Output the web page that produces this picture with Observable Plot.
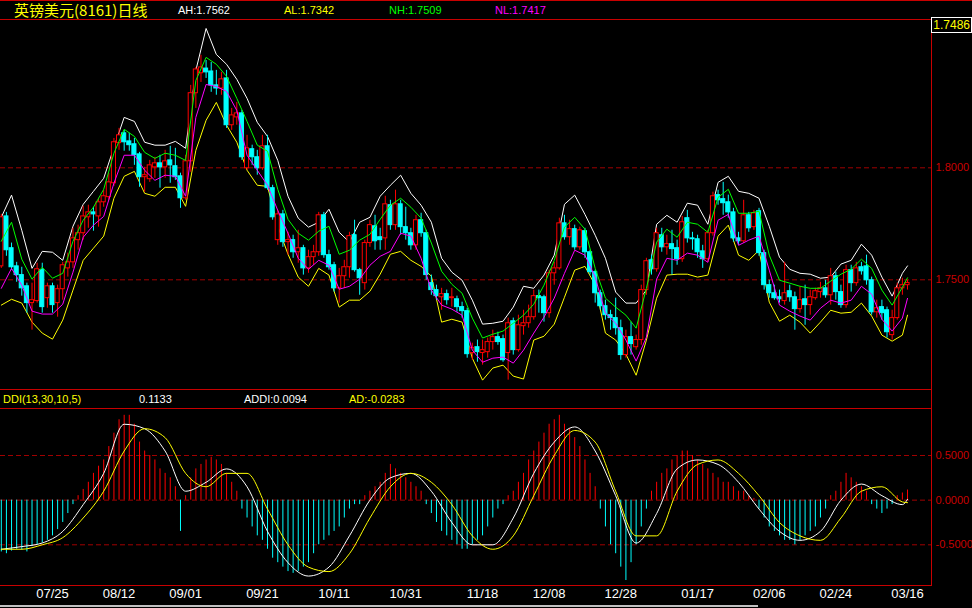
<!DOCTYPE html>
<html><head><meta charset="utf-8">
<script src="https://cdn.jsdelivr.net/npm/d3@7"></script>
<script src="https://cdn.jsdelivr.net/npm/@observablehq/plot@0.6"></script>
<style>
html,body{margin:0;padding:0;background:#000;}
#root{position:relative;width:972px;height:608px;background:#000;overflow:hidden;font-family:"Liberation Sans",Arial,sans-serif;}
.hl{position:absolute;height:1px;background:#c80000;}
.vl{position:absolute;width:1px;background:#c80000;}
.t{position:absolute;font-size:11px;line-height:12px;white-space:nowrap;}
.pane{position:absolute;left:0;}
</style></head><body>
<div id="root"></div>
<script>
const N = 178;
const open = [1.7560,1.7783,1.7641,1.7560,1.7521,1.7471,1.7396,1.7405,1.7543,1.7418,
1.7471,1.7396,1.7458,1.7551,1.7578,1.7677,1.7708,1.7779,1.7801,1.7783,
1.7846,1.7869,1.7931,1.8110,1.8154,1.8118,1.8105,1.8060,1.7958,1.7949,
1.8002,1.8020,1.8002,1.8033,1.8007,1.7962,1.7864,1.8029,1.8333,1.8422,
1.8443,1.8430,1.8368,1.8354,1.8399,1.8190,1.8225,1.8243,1.7998,1.8083,
1.8047,1.7998,1.8096,1.7909,1.7677,1.7792,1.7668,1.7677,1.7623,1.7641,
1.7551,1.7601,1.7623,1.7788,1.7610,1.7565,1.7462,1.7516,1.7556,1.7699,
1.7543,1.7485,1.7664,1.7739,1.7690,1.7685,1.7833,1.7744,1.7837,1.7735,
1.7708,1.7654,1.7766,1.7708,1.7485,1.7454,1.7422,1.7436,1.7418,1.7413,
1.7378,1.7360,1.7173,1.7199,1.7173,1.7177,1.7222,1.7244,1.7235,1.7173,
1.7315,1.7186,1.7293,1.7306,1.7333,1.7427,1.7422,1.7351,1.7529,1.7551,
1.7752,1.7690,1.7726,1.7645,1.7717,1.7623,1.7534,1.7440,1.7382,1.7342,
1.7329,1.7284,1.7164,1.7244,1.7199,1.7231,1.7454,1.7587,1.7547,1.7699,
1.7645,1.7659,1.7641,1.7592,1.7775,1.7685,1.7681,1.7627,1.7592,1.7708,
1.7878,1.7860,1.7846,1.7801,1.7685,1.7672,1.7788,1.7735,1.7806,1.7619,
1.7476,1.7440,1.7422,1.7405,1.7449,1.7422,1.7369,1.7413,1.7387,1.7418,
1.7445,1.7462,1.7431,1.7516,1.7445,1.7387,1.7543,1.7485,1.7556,1.7560,
1.7498,1.7355,1.7378,1.7364,1.7253,1.7329,1.7462,1.7476];
const high = [1.7792,1.7801,1.7664,1.7578,1.7556,1.7485,1.7485,1.7574,1.7574,1.7485,
1.7485,1.7476,1.7578,1.7619,1.7730,1.7744,1.7828,1.7833,1.7824,1.7864,
1.7900,1.7976,1.8131,1.8176,1.8167,1.8154,1.8131,1.8069,1.8002,1.8033,
1.8047,1.8056,1.8078,1.8096,1.8087,1.7976,1.8056,1.8368,1.8448,1.8502,
1.8479,1.8470,1.8435,1.8426,1.8435,1.8265,1.8292,1.8256,1.8145,1.8101,
1.8078,1.8145,1.8145,1.7922,1.7810,1.7810,1.7712,1.7699,1.7721,1.7654,
1.7632,1.7654,1.7801,1.7801,1.7632,1.7578,1.7551,1.7587,1.7712,1.7766,
1.7551,1.7677,1.7766,1.7788,1.7730,1.7873,1.7855,1.7900,1.7855,1.7824,
1.7730,1.7788,1.7797,1.7721,1.7521,1.7476,1.7462,1.7454,1.7462,1.7427,
1.7400,1.7373,1.7217,1.7231,1.7231,1.7240,1.7275,1.7266,1.7253,1.7329,
1.7329,1.7342,1.7364,1.7387,1.7454,1.7454,1.7431,1.7543,1.7578,1.7775,
1.7788,1.7766,1.7744,1.7735,1.7730,1.7632,1.7543,1.7454,1.7409,1.7364,
1.7418,1.7320,1.7275,1.7311,1.7253,1.7476,1.7596,1.7610,1.7730,1.7730,
1.7699,1.7721,1.7677,1.7783,1.7810,1.7712,1.7699,1.7654,1.7721,1.7891,
1.7900,1.7935,1.7878,1.7819,1.7712,1.7855,1.7801,1.7810,1.7819,1.7632,
1.7498,1.7476,1.7454,1.7578,1.7476,1.7445,1.7467,1.7476,1.7454,1.7462,
1.7489,1.7498,1.7551,1.7534,1.7476,1.7565,1.7565,1.7578,1.7578,1.7610,
1.7512,1.7409,1.7409,1.7378,1.7364,1.7485,1.7507,1.7498];
const low = [1.7551,1.7605,1.7543,1.7489,1.7427,1.7351,1.7275,1.7396,1.7351,1.7373,
1.7351,1.7333,1.7409,1.7512,1.7551,1.7632,1.7677,1.7730,1.7717,1.7735,
1.7824,1.7855,1.7917,1.8078,1.8074,1.8074,1.8011,1.7913,1.7891,1.7935,
1.7953,1.7909,1.7953,1.7931,1.7944,1.7819,1.7855,1.7980,1.8265,1.8381,
1.8399,1.8337,1.8324,1.8324,1.8176,1.8167,1.8190,1.8033,1.7989,1.8011,
1.7967,1.7989,1.7900,1.7766,1.7654,1.7645,1.7610,1.7596,1.7574,1.7521,
1.7529,1.7565,1.7605,1.7596,1.7543,1.7445,1.7396,1.7462,1.7507,1.7534,
1.7431,1.7454,1.7645,1.7632,1.7632,1.7632,1.7721,1.7721,1.7699,1.7677,
1.7632,1.7632,1.7690,1.7498,1.7431,1.7409,1.7364,1.7387,1.7378,1.7355,
1.7329,1.7150,1.7141,1.7132,1.7119,1.7150,1.7186,1.7208,1.7132,1.7052,
1.7164,1.7177,1.7253,1.7284,1.7320,1.7351,1.7311,1.7329,1.7476,1.7543,
1.7677,1.7654,1.7632,1.7632,1.7596,1.7521,1.7396,1.7364,1.7320,1.7275,
1.7253,1.7141,1.7150,1.7164,1.7186,1.7208,1.7431,1.7521,1.7534,1.7623,
1.7610,1.7521,1.7565,1.7578,1.7664,1.7632,1.7596,1.7551,1.7578,1.7695,
1.7833,1.7788,1.7775,1.7668,1.7654,1.7664,1.7712,1.7721,1.7605,1.7454,
1.7418,1.7409,1.7396,1.7387,1.7400,1.7275,1.7351,1.7297,1.7342,1.7409,
1.7418,1.7418,1.7387,1.7409,1.7373,1.7373,1.7445,1.7471,1.7521,1.7476,
1.7342,1.7329,1.7320,1.7240,1.7231,1.7320,1.7431,1.7454];
const close = [1.7779,1.7632,1.7556,1.7521,1.7462,1.7396,1.7409,1.7547,1.7378,1.7471,
1.7387,1.7458,1.7565,1.7578,1.7685,1.7708,1.7783,1.7801,1.7792,1.7846,
1.7873,1.7935,1.8114,1.8145,1.8114,1.8101,1.8056,1.7958,1.7967,1.8011,
1.8020,1.8002,1.8029,1.8011,1.7958,1.7864,1.8029,1.8333,1.8439,1.8448,
1.8426,1.8368,1.8354,1.8395,1.8190,1.8234,1.8243,1.8047,1.8087,1.8047,
1.7998,1.8096,1.7909,1.7779,1.7792,1.7668,1.7677,1.7623,1.7641,1.7551,
1.7601,1.7623,1.7788,1.7610,1.7556,1.7462,1.7516,1.7556,1.7695,1.7543,
1.7507,1.7664,1.7744,1.7672,1.7677,1.7837,1.7744,1.7837,1.7735,1.7708,
1.7654,1.7766,1.7708,1.7521,1.7454,1.7427,1.7436,1.7409,1.7422,1.7378,
1.7360,1.7168,1.7195,1.7177,1.7186,1.7222,1.7244,1.7222,1.7141,1.7306,
1.7186,1.7297,1.7306,1.7333,1.7427,1.7418,1.7351,1.7529,1.7551,1.7752,
1.7690,1.7726,1.7645,1.7721,1.7623,1.7534,1.7440,1.7382,1.7342,1.7329,
1.7284,1.7164,1.7244,1.7213,1.7231,1.7454,1.7583,1.7547,1.7708,1.7645,
1.7659,1.7637,1.7592,1.7757,1.7685,1.7681,1.7623,1.7592,1.7708,1.7873,
1.7855,1.7842,1.7801,1.7685,1.7672,1.7788,1.7730,1.7797,1.7619,1.7476,
1.7440,1.7418,1.7413,1.7440,1.7422,1.7369,1.7409,1.7387,1.7422,1.7449,
1.7462,1.7431,1.7516,1.7445,1.7387,1.7543,1.7485,1.7551,1.7538,1.7498,
1.7355,1.7373,1.7351,1.7266,1.7329,1.7462,1.7476,1.7486];

// envelope lines, one value every 2 bars (bars 0,2,...,176) plus the last bar
const ahLine = [1.7779,1.7878,1.7721,1.7551,1.7627,1.7623,1.7587,1.7739,1.7837,1.7895,
1.7953,1.8091,1.8225,1.8207,1.8114,1.8101,1.8101,1.8118,1.8087,1.8435,
1.8622,1.8506,1.8462,1.8395,1.8310,1.8203,1.8140,1.8033,1.7873,1.7775,
1.7735,1.7757,1.7815,1.7712,1.7668,1.7757,1.7779,1.7873,1.7922,1.7967,
1.7886,1.7833,1.7757,1.7596,1.7534,1.7498,1.7409,1.7302,1.7306,1.7315,
1.7378,1.7471,1.7462,1.7521,1.7610,1.7837,1.7878,1.7792,1.7699,1.7596,
1.7445,1.7396,1.7396,1.7454,1.7748,1.7788,1.7757,1.7842,1.7833,1.7748,
1.7935,1.7962,1.7895,1.7886,1.7864,1.7739,1.7601,1.7547,1.7529,1.7525,
1.7507,1.7512,1.7570,1.7587,1.7659,1.7610,1.7512,1.7427,1.7529,1.7562];
const nhLine = [1.7672,1.7757,1.7592,1.7503,1.7556,1.7507,1.7529,1.7672,1.7766,1.7824,
1.7904,1.8065,1.8172,1.8140,1.8069,1.8042,1.8065,1.8056,1.8033,1.8390,
1.8493,1.8462,1.8408,1.8310,1.8207,1.8101,1.8074,1.7904,1.7770,1.7708,
1.7677,1.7717,1.7739,1.7614,1.7632,1.7677,1.7703,1.7770,1.7833,1.7864,
1.7824,1.7775,1.7664,1.7538,1.7480,1.7440,1.7329,1.7240,1.7257,1.7271,
1.7306,1.7342,1.7391,1.7476,1.7587,1.7735,1.7779,1.7726,1.7551,1.7418,
1.7378,1.7342,1.7284,1.7462,1.7668,1.7726,1.7690,1.7757,1.7748,1.7712,
1.7868,1.7904,1.7797,1.7797,1.7806,1.7610,1.7498,1.7485,1.7471,1.7462,
1.7462,1.7494,1.7525,1.7547,1.7592,1.7551,1.7454,1.7387,1.7467,1.7509];
const nlLine = [1.7462,1.7551,1.7476,1.7360,1.7347,1.7347,1.7391,1.7534,1.7690,1.7744,
1.7783,1.7931,1.8056,1.8056,1.7989,1.7944,1.7967,1.7962,1.7873,1.8225,
1.8372,1.8363,1.8341,1.8256,1.8056,1.7989,1.7922,1.7810,1.7708,1.7596,
1.7547,1.7587,1.7565,1.7458,1.7471,1.7503,1.7565,1.7605,1.7627,1.7708,
1.7695,1.7596,1.7454,1.7387,1.7369,1.7342,1.7186,1.7132,1.7150,1.7155,
1.7128,1.7186,1.7262,1.7333,1.7418,1.7529,1.7632,1.7610,1.7512,1.7351,
1.7306,1.7231,1.7137,1.7244,1.7503,1.7596,1.7587,1.7619,1.7610,1.7578,
1.7766,1.7792,1.7654,1.7677,1.7695,1.7543,1.7387,1.7360,1.7338,1.7320,
1.7373,1.7409,1.7396,1.7409,1.7471,1.7436,1.7324,1.7271,1.7329,1.7417];
const alLine = [1.7387,1.7413,1.7396,1.7311,1.7262,1.7235,1.7320,1.7454,1.7587,1.7641,
1.7695,1.7864,1.7962,1.7984,1.7886,1.7873,1.7913,1.7913,1.7828,1.8078,
1.8212,1.8292,1.8190,1.8114,1.7989,1.7922,1.7917,1.7739,1.7614,1.7512,
1.7471,1.7551,1.7521,1.7378,1.7409,1.7409,1.7449,1.7525,1.7614,1.7627,
1.7587,1.7560,1.7516,1.7311,1.7324,1.7311,1.7150,1.7052,1.7106,1.7119,
1.7070,1.7057,1.7231,1.7248,1.7302,1.7422,1.7543,1.7560,1.7476,1.7262,
1.7231,1.7168,1.7074,1.7231,1.7418,1.7521,1.7525,1.7525,1.7512,1.7521,
1.7695,1.7744,1.7610,1.7587,1.7632,1.7400,1.7315,1.7342,1.7311,1.7262,
1.7311,1.7364,1.7351,1.7355,1.7396,1.7338,1.7253,1.7226,1.7253,1.7342];

const ddiBars = [-0.58,-0.60,-0.57,-0.55,-0.56,-0.58,-0.52,-0.50,-0.48,-0.45,-0.40,-0.33,
-0.25,-0.15,-0.05,
0.05,0.12,0.20,0.30,0.38,0.45,
0.60,0.75,0.90,0.95,0.95,0.85,0.65,
0.55,0.50,0.45,0.35,0.30,0.25,0.15,
-0.35,0.05,
0.25,0.35,0.40,0.45,0.48,0.45,0.40,0.30,0.20,0.10,
-0.10,-0.20,-0.30,-0.40,-0.45,-0.55,
-0.65,-0.70,-0.75,-0.80,-0.82,-0.80,-0.75,-0.70,-0.60,-0.50,
-0.45,-0.40,-0.35,-0.30,-0.20,-0.10,-0.05,-0.05,
0.05,0.10,0.15,0.20,0.30,0.40,0.35,0.30,0.25,0.20,0.15,0.10,-0.05,-0.15,
-0.25,-0.35,-0.40,-0.45,-0.50,-0.55,-0.55,-0.50,-0.45,-0.40,-0.30,-0.20,
-0.10,-0.05,0.05,0.10,0.20,0.30,
0.45,0.55,0.65,0.75,0.85,0.90,0.95,0.85,0.80,0.70,
0.60,0.45,0.30,0.15,-0.10,-0.30,-0.50,-0.60,
-0.75,-0.90,-0.70,-0.50,-0.30,
-0.10,0.10,0.20,0.30,0.35,
0.45,0.50,0.55,0.55,0.50,0.45,0.40,0.35,0.30,0.25,
0.20,0.20,0.15,0.10,0.10,0.05,0.02,-0.10,
-0.20,-0.30,-0.35,-0.40,-0.45,-0.45,-0.50,-0.45,-0.40,-0.35,-0.30,-0.20,
-0.10,0.05,0.10,0.20,0.30,0.25,0.20,0.15,0.10,-0.05,-0.10,-0.15,-0.10,-0.05,0.05,0.08,0.1133];
// DDI signal lines, one value every 4 bars plus the last bar
const addiLine = [-0.55,-0.52,-0.48,-0.35,-0.05,0.30,0.85,0.80,0.55,0.10,0.20,0.35,0.15,-0.35,-0.70,-0.85,-0.75,-0.40,0.00,0.25,0.30,0.10,-0.25,-0.50,-0.50,-0.20,0.30,0.65,0.82,0.55,0.05,-0.48,-0.15,0.35,0.45,0.40,0.20,-0.10,-0.35,-0.45,-0.35,0.00,0.18,0.05,-0.05,0.0094];
const adLine = [-0.55,-0.55,-0.50,-0.42,-0.20,0.10,0.55,0.80,0.70,0.30,0.15,0.30,0.30,-0.10,-0.50,-0.75,-0.80,-0.60,-0.20,0.15,0.30,0.20,-0.05,-0.40,-0.55,-0.40,0.05,0.50,0.78,0.65,0.10,-0.40,-0.40,0.10,0.40,0.45,0.30,0.05,-0.25,-0.40,-0.45,-0.20,0.10,0.15,-0.02,-0.0283];

const dateLabels = ["07/25","08/12","09/01","09/21","10/11","10/31","11/18","12/08","12/28","01/17","02/06","02/24","03/16"];
const dateBars = [10,23,36,51,65,79,94,107,121,136,150,163,177];
const priceTicks = [1.75, 1.80];
const ddiTicks = [0.5, 0, -0.5];

const RED = "#ff0000", CYAN = "#00ffff", AXIS = "#c80000", GRID = "#a00000";

const bars = d3.range(N).map(i => ({i, o: open[i], h: high[i], l: low[i], c: close[i]}));
const upBars = bars.filter(d => d.c >= d.o);
const dnBars = bars.filter(d => d.c < d.o);
const envIdx = d3.range(0, N - 1, 2).concat([N - 1]);
const toLine = (arr, idx) => arr.map((v, k) => ({i: idx[k], v}));
const ddiIdx = d3.range(0, N - 1, 4).concat([N - 1]);
const ddiData = ddiBars.map((v, i) => ({i, v}));

const root = document.getElementById("root");
function add(html) { root.insertAdjacentHTML("beforeend", html); }

const xOpts = {domain: [0, N - 1], range: [0.8, 907], axis: null};
const baseStyle = {background: "transparent", overflow: "visible", fontFamily: "Liberation Sans, Arial, sans-serif"};

const pricePlot = Plot.plot({
  width: 972, height: 369, marginLeft: 0, marginRight: 41, marginTop: 0, marginBottom: 0,
  style: baseStyle,
  x: xOpts,
  y: {domain: [1.75, 1.80], range: [259.3, 147.3], axis: null},
  marks: [
    Plot.ruleY(priceTicks, {stroke: GRID, strokeDasharray: "5,3"}),
    Plot.line(toLine(ahLine, envIdx), {x: "i", y: "v", stroke: "#ffffff", strokeWidth: 1}),
    Plot.line(toLine(alLine, envIdx), {x: "i", y: "v", stroke: "#ffff00", strokeWidth: 1}),
    Plot.ruleX(dnBars, {x: "i", y1: "l", y2: "h", stroke: CYAN}),
    Plot.ruleX(upBars, {x: "i", y1: "l", y2: "h", stroke: RED}),
    Plot.rect(dnBars, {x1: d => d.i - 0.4, x2: d => d.i + 0.4, y1: "o", y2: "c", fill: CYAN, stroke: CYAN}),
    Plot.rect(upBars, {x1: d => d.i - 0.4, x2: d => d.i + 0.4, y1: "o", y2: "c", fill: "#000", stroke: RED}),
    Plot.line(toLine(nhLine, envIdx), {x: "i", y: "v", stroke: "#00ff00", strokeWidth: 1}),
    Plot.line(toLine(nlLine, envIdx), {x: "i", y: "v", stroke: "#ff00ff", strokeWidth: 1}),
    Plot.text(priceTicks, {y: d => d, text: d => d.toFixed(4), frameAnchor: "right", textAnchor: "start", dx: 4, fill: AXIS, fontSize: 11})
  ]
});

const ddiPlot = Plot.plot({
  width: 972, height: 200, marginLeft: 0, marginRight: 41, marginTop: 0, marginBottom: 23,
  style: baseStyle,
  x: xOpts,
  y: {domain: [-0.5, 0.5], range: [136.3, 47], axis: null},
  marks: [
    Plot.ruleY(ddiTicks, {stroke: GRID, strokeDasharray: "5,3"}),
    Plot.ruleX(ddiData.filter(d => d.v >= 0), {x: "i", y1: () => 0, y2: "v", stroke: RED}),
    Plot.ruleX(ddiData.filter(d => d.v < 0), {x: "i", y1: () => 0, y2: "v", stroke: CYAN}),
    Plot.line(toLine(addiLine, ddiIdx), {x: "i", y: "v", stroke: "#ffffff", strokeWidth: 1, curve: "monotone-x"}),
    Plot.line(toLine(adLine, ddiIdx), {x: "i", y: "v", stroke: "#ffff00", strokeWidth: 1, curve: "monotone-x"}),
    Plot.text(ddiTicks, {y: d => d, text: d => d.toFixed(4), frameAnchor: "right", textAnchor: "start", dx: 4, fill: AXIS, fontSize: 11}),
    Plot.text(dateLabels.map((t, k) => ({t, i: dateBars[k]})), {x: "i", text: "t", frameAnchor: "bottom", dy: 12, fill: "#ffffff", fontSize: 13})
  ]
});

// header strip
add(`<div class="hl" style="top:0;left:0;width:972px"></div>`);
add(`<div class="t" style="left:14px;top:1px;color:#ffff00;font-size:15px;line-height:18px;font-family:'Noto Sans CJK SC',sans-serif">英镑美元(8161)日线</div>`);
add(`<div class="t" style="left:178px;top:4px;color:#ffffff">AH:${ahLine[ahLine.length-1].toFixed(4)}</div>`);
add(`<div class="t" style="left:284px;top:4px;color:#ffff00">AL:${alLine[alLine.length-1].toFixed(4)}</div>`);
add(`<div class="t" style="left:389px;top:4px;color:#00ff00">NH:${nhLine[nhLine.length-1].toFixed(4)}</div>`);
add(`<div class="t" style="left:495px;top:4px;color:#ff00ff">NL:${nlLine[nlLine.length-1].toFixed(4)}</div>`);
add(`<div class="hl" style="top:19px;left:0;width:931px"></div>`);

const pp = document.createElement("div"); pp.className = "pane"; pp.style.top = "20px"; pp.appendChild(pricePlot); root.appendChild(pp);

add(`<div class="hl" style="top:389px;left:0;width:931px"></div>`);
add(`<div class="t" style="left:3px;top:393px;color:#ffff00">DDI(13,30,10,5)</div>`);
add(`<div class="t" style="left:139px;top:393px;color:#ffffff">${ddiBars[N-1].toFixed(4)}</div>`);
add(`<div class="t" style="left:244px;top:393px;color:#ffffff">ADDI:${addiLine[addiLine.length-1].toFixed(4)}</div>`);
add(`<div class="t" style="left:349px;top:393px;color:#ffff00">AD:${adLine[adLine.length-1].toFixed(4)}</div>`);
add(`<div class="hl" style="top:408px;left:0;width:931px"></div>`);

const dp = document.createElement("div"); dp.className = "pane"; dp.style.top = "408px"; dp.appendChild(ddiPlot); root.appendChild(dp);

add(`<div class="hl" style="top:585px;left:0;width:931px"></div>`);
add(`<div class="vl" style="left:931px;top:19px;height:567px"></div>`);
add(`<div class="t" style="left:931px;top:17px;width:38px;height:14px;border:1px solid #fff;color:#ffff00;font-size:12px;line-height:14px;text-align:right;padding-right:1px">${close[N-1].toFixed(4)}</div>`);
// window scrollbar edge at the very bottom
add(`<div style="position:absolute;left:0;top:605px;width:758px;height:2px;background:#c0c0c0"></div>`);
</script></body></html>
